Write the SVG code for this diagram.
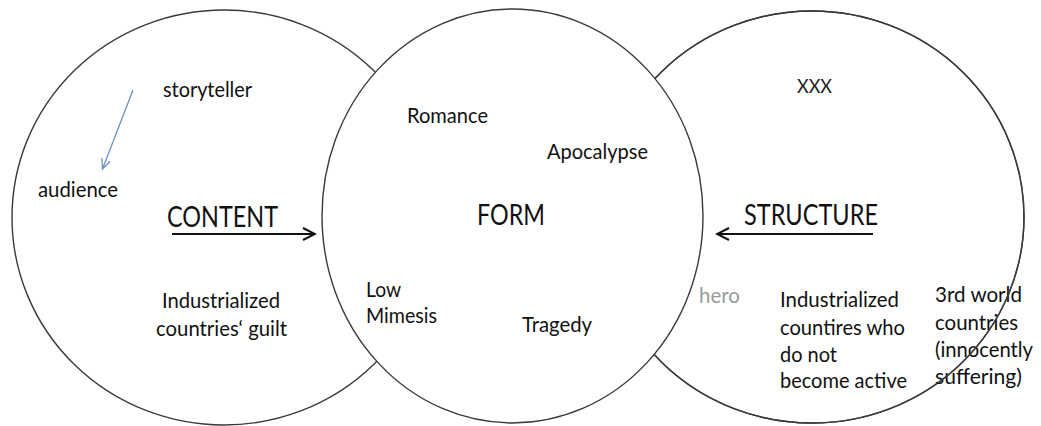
<svg xmlns="http://www.w3.org/2000/svg" width="1041" height="426" viewBox="0 0 1041 426">
  <style>
    .ring { fill: #ffffff; stroke: #3a3a3a; stroke-width: 1.4; }
    .ring-line { fill: none; stroke: #3a3a3a; stroke-width: 1.4; }
    .lbl { font-family: Lato, "Liberation Sans", sans-serif; font-size: 21px; fill: #111111; }
    .title { font-family: Lato, "Liberation Sans", sans-serif; font-size: 28px; fill: #111111; }
    .small { font-family: Lato, "Liberation Sans", sans-serif; font-size: 19px; fill: #222222; }
    .muted { fill: #9a9a9a; }
    .flow { stroke: #111111; stroke-width: 2; fill: none; }
    .hint { stroke: #6f8fc4; stroke-width: 1.3; fill: none; }
  </style>
  <defs>
    <marker id="chev" markerUnits="userSpaceOnUse" viewBox="0 0 16 16" markerWidth="16" markerHeight="16" refX="14" refY="8" orient="auto">
      <path d="M2,2 L14,8 L2,14" fill="none" stroke="#111111" stroke-width="2"/>
    </marker>
    <marker id="chev-blue" markerUnits="userSpaceOnUse" viewBox="0 0 14 12" markerWidth="14" markerHeight="12" refX="12" refY="6" orient="auto">
      <path d="M2,1.5 L12,6 L2,10.5" fill="none" stroke="#6f8fc4" stroke-width="1.3"/>
    </marker>
  </defs>

  <rect width="1041" height="426" fill="#ffffff"/>

  <!-- CONTENT circle -->
  <g id="content">
    <ellipse class="ring" cx="224" cy="217.5" rx="212" ry="207.5"/>
    <text class="lbl" x="163" y="97" textLength="89" lengthAdjust="spacingAndGlyphs">storyteller</text>
    <text class="lbl" x="38" y="197" textLength="80" lengthAdjust="spacingAndGlyphs">audience</text>
    <text class="title" x="167" y="227" textLength="111" lengthAdjust="spacingAndGlyphs">CONTENT</text>
    <text class="lbl" x="162" y="308" textLength="118" lengthAdjust="spacingAndGlyphs">Industrialized</text>
    <text class="lbl" x="156" y="336" textLength="131" lengthAdjust="spacingAndGlyphs">countries‘ guilt</text>
  </g>

  <!-- STRUCTURE circle -->
  <g id="structure">
    <ellipse class="ring" cx="812" cy="217" rx="212" ry="206"/>
    <text class="small" x="797" y="93" textLength="35" lengthAdjust="spacingAndGlyphs">XXX</text>
    <text class="title" x="744" y="225" textLength="134" lengthAdjust="spacingAndGlyphs">STRUCTURE</text>
    <text class="lbl muted" x="699" y="303" textLength="41" lengthAdjust="spacingAndGlyphs">hero</text>
    <text class="lbl" x="780" y="307" textLength="119" lengthAdjust="spacingAndGlyphs">Industrialized</text>
    <text class="lbl" x="780" y="335" textLength="125" lengthAdjust="spacingAndGlyphs">countires who</text>
    <text class="lbl" x="780" y="362" textLength="57" lengthAdjust="spacingAndGlyphs">do not</text>
    <text class="lbl" x="780" y="388" textLength="127" lengthAdjust="spacingAndGlyphs">become active</text>
    <text class="lbl" x="935" y="302" textLength="87" lengthAdjust="spacingAndGlyphs">3rd world</text>
    <text class="lbl" x="935" y="330" textLength="83" lengthAdjust="spacingAndGlyphs">countries</text>
    <text class="lbl" x="935" y="357" textLength="98" lengthAdjust="spacingAndGlyphs">(innocently</text>
    <text class="lbl" x="935" y="384" textLength="87" lengthAdjust="spacingAndGlyphs">suffering)</text>
    <!-- outline redrawn above the labels that run past the rim -->
    <ellipse class="ring-line" cx="812" cy="217" rx="212" ry="206"/>
  </g>

  <!-- FORM circle, in front of the other two -->
  <g id="form">
    <ellipse class="ring" cx="512.5" cy="216" rx="190.5" ry="207"/>
    <text class="lbl" x="407" y="123" textLength="81" lengthAdjust="spacingAndGlyphs">Romance</text>
    <text class="lbl" x="547" y="159" textLength="101" lengthAdjust="spacingAndGlyphs">Apocalypse</text>
    <text class="title" x="477" y="225" textLength="68" lengthAdjust="spacingAndGlyphs">FORM</text>
    <text class="lbl" x="366" y="297" textLength="35" lengthAdjust="spacingAndGlyphs">Low</text>
    <text class="lbl" x="366" y="323" textLength="71" lengthAdjust="spacingAndGlyphs">Mimesis</text>
    <text class="lbl" x="522" y="332" textLength="70" lengthAdjust="spacingAndGlyphs">Tragedy</text>
  </g>

  <!-- connectors -->
  <g id="connectors">
    <line class="hint" x1="133" y1="90" x2="102.5" y2="169" marker-end="url(#chev-blue)"/>
    <line class="flow" x1="172" y1="234" x2="315" y2="234" marker-end="url(#chev)"/>
    <line class="flow" x1="873" y1="234" x2="717" y2="234" marker-end="url(#chev)"/>
  </g>
</svg>
